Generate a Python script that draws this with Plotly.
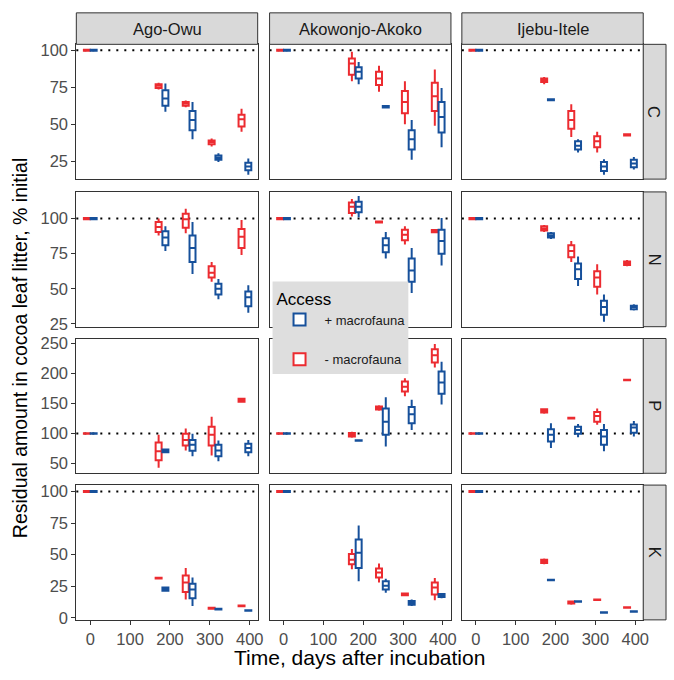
import plotly.graph_objects as go

# ---------------- data ----------------
sites = ["Ago-Owu", "Akowonjo-Akoko", "Ijebu-Itele"]
nutrients = ["C", "N", "P", "K"]
times = [0, 180, 248, 313, 388]
access_labels = ["+ macrofauna", "- macrofauna"]

# each entry: (lower whisker, q1, median, q3, upper whisker) per time point
t0 = (99.3, 99.6, 100, 100.4, 100.7)

C_AgoOwu_minus = [t0, (73.5, 74.5, 76, 77, 78), (61.5, 62.5, 64, 65, 66), (35, 36.5, 38, 39, 40.5), (45, 48.5, 53.5, 56.5, 60.5)]
C_AgoOwu_plus = [t0, (58.5, 62.5, 67.5, 73, 77.5), (40, 46, 53, 59, 65), (24.5, 26, 27.5, 29, 30.5), (16, 19, 21.5, 24, 27)]
C_Akowonjo_minus = [t0, (79, 83.5, 91, 94.5, 99), (72, 76.5, 81, 85.5, 89.5), (50, 57.5, 65, 72.5, 79), (49, 59, 69, 78, 87)]
C_Akowonjo_plus = [t0, (77, 81, 85.5, 88.5, 92), (61, 61.3, 62, 62.3, 62.5), (26, 33, 40, 46, 53), (34.5, 44.5, 55, 65, 74.5)]
C_Ijebu_minus = [t0, (77, 78.5, 80, 81, 82), (41.5, 47, 53, 59, 63.5), (31, 34.5, 38.5, 42, 45), (42, 42.5, 43, 43.3, 43.6)]
C_Ijebu_plus = [t0, (66, 66.3, 66.7, 67, 67.5), (31, 33, 35.5, 38.5, 40), (16, 18.5, 21.5, 24.5, 26.5), (19.5, 21, 23.5, 26, 28)]

N_AgoOwu_minus = [t0, (88, 90.5, 94, 97.5, 100), (89.5, 93.5, 99.5, 103.5, 107), (55, 58, 61.5, 66, 69), (74, 79, 87, 92.5, 99)]
N_AgoOwu_plus = [t0, (77, 81, 86.5, 91, 94.5), (60.5, 69, 79, 88, 97.5), (42.5, 46, 50, 53.5, 57), (33, 37.5, 44, 48, 52.5)]
N_Akowonjo_minus = [t0, (101.5, 104, 108.5, 111.5, 114), (97, 97.3, 97.6, 98, 98.3), (81.5, 84.5, 88.5, 92, 94.5), (89.5, 90.3, 91, 91.8, 92.5)]
N_Akowonjo_plus = [t0, (101, 104.5, 108.5, 112, 116), (71.5, 76, 81, 86, 90.5), (47, 55, 63, 71.5, 79), (66.5, 75, 84, 92, 100.5)]
N_Ijebu_minus = [t0, (90.5, 91.5, 93, 94.5, 95.5), (69, 72.5, 77, 81, 84), (46, 51.5, 58, 62.5, 67.5), (66, 67, 68, 69.5, 70.5)]
N_Ijebu_plus = [t0, (85.5, 86.5, 88, 89.5, 90.5), (52, 57, 64, 68, 73), (26.5, 31.5, 37, 41.5, 46), (34.5, 35.5, 37, 38, 39)]

P_AgoOwu_minus = [t0, (43, 55.5, 70.5, 85, 98), (72, 80, 89.5, 99.5, 108.5), (63.5, 80, 98, 111.5, 128), (152, 153, 155.5, 158, 159)]
P_AgoOwu_plus = [t0, (68, 69, 71, 73.5, 74.5), (62.5, 71.5, 81.5, 89.5, 99.5), (54, 62.5, 72, 81.5, 88.5), (62.5, 69, 76, 83, 89.5)]
P_Akowonjo_minus = [t0, (93, 95, 98, 101, 103), (138, 140, 142.5, 145, 147), (162, 170, 178, 186.5, 192), (210, 218, 230, 240, 249)]
P_Akowonjo_plus = [t0, (87.5, 88, 88.5, 89, 89.5), (78.5, 98, 119.5, 141.5, 160.5), (106, 117, 132, 144, 156), (148.5, 166, 185, 203, 219.5)]
P_Ijebu_minus = [t0, (133, 135, 137.5, 140.5, 142), (124.5, 125, 125.7, 126.3, 127), (114.5, 119.5, 129, 136, 141.5), (188, 188.5, 189, 189.5, 190)]
P_Ijebu_plus = [t0, (76, 87, 98, 107, 117), (94, 99.5, 106, 111.5, 116), (70.5, 81.5, 95, 106, 116), (95, 101.5, 110, 115, 121)]

K_AgoOwu_minus = [t0, (31, 31.2, 31.5, 31.8, 32), (14.5, 20.5, 28, 33.5, 39.5), (7, 7.3, 7.7, 8.1, 8.5), (9, 9.2, 9.5, 9.8, 10)]
K_AgoOwu_plus = [t0, (21, 21.5, 22.7, 24, 24.5), (9.5, 15.5, 22.5, 27, 32), (6.5, 6.7, 7, 7.2, 7.5), (5.5, 5.7, 6, 6.2, 6.5)]
K_Akowonjo_minus = [t0, (38.5, 42.5, 46, 50.5, 54.5), (28, 32, 36, 39, 43), (17.5, 18, 18.7, 19.4, 20), (14, 18.5, 24, 28, 31.5)]
K_Akowonjo_plus = [t0, (29, 39.5, 51.5, 62, 73), (20, 22.5, 25.5, 29, 31), (9.5, 10.5, 12, 13.5, 14.5), (15.5, 16.5, 17.7, 19, 19.5)]
K_Ijebu_minus = [t0, (42.5, 43.5, 44.8, 46, 47), (10.5, 11.5, 12.3, 13, 13.5), (14, 14.2, 14.4, 14.6, 14.8), (7.8, 8, 8.2, 8.4, 8.6)]
K_Ijebu_plus = [t0, (29.5, 29.8, 30, 30.2, 30.5), (12.7, 12.9, 13.1, 13.3, 13.5), (4, 4.2, 4.4, 4.6, 4.8), (4.7, 4.9, 5.1, 5.3, 5.5)]

y_ranges = {"C": [13, 104], "N": [23, 119], "P": [34, 258], "K": [-1.5, 105]}
y_ticks = {"C": [25, 50, 75, 100], "N": [25, 50, 75, 100], "P": [50, 100, 150, 200, 250], "K": [0, 25, 50, 75, 100]}
x_ticks = [0, 100, 200, 300, 400]

data = {
    ("C", 0): (C_AgoOwu_plus, C_AgoOwu_minus), ("C", 1): (C_Akowonjo_plus, C_Akowonjo_minus), ("C", 2): (C_Ijebu_plus, C_Ijebu_minus),
    ("N", 0): (N_AgoOwu_plus, N_AgoOwu_minus), ("N", 1): (N_Akowonjo_plus, N_Akowonjo_minus), ("N", 2): (N_Ijebu_plus, N_Ijebu_minus),
    ("P", 0): (P_AgoOwu_plus, P_AgoOwu_minus), ("P", 1): (P_Akowonjo_plus, P_Akowonjo_minus), ("P", 2): (P_Ijebu_plus, P_Ijebu_minus),
    ("K", 0): (K_AgoOwu_plus, K_AgoOwu_minus), ("K", 1): (K_Akowonjo_plus, K_Akowonjo_minus), ("K", 2): (K_Ijebu_plus, K_Ijebu_minus),
}

# ---------------- style / layout ----------------
W, H = 674, 680
BLUE = "#16509B"
RED = "#EC2B30"
FONT = "Liberation Sans"
TICK_SIZE = 16.5
STRIP_SIZE = 16.5
XTITLE_SIZE = 21
YTITLE_SIZE = 19.5
col_px = [(77, 260), (272, 455), (466, 649)]
row_px = [(41, 178), (191, 328), (340, 477), (489, 626)]
strip_top = (9, 41)
strip_right = (649, 672)
legend_box = (275, 282, 412, 376)
dodge = 8.5
box_w = 15

def px2x(p):
    return p / W

def px2y(p):
    return 1 - p / H

fig = go.Figure()
layout = dict(
    width=W, height=H, margin=dict(l=0, r=0, t=0, b=0),
    paper_bgcolor="white", plot_bgcolor="white",
    font=dict(family=FONT, color="#1A1A1A"),
    showlegend=True,
)
shapes = []
annotations = []

for r, nut in enumerate(nutrients):
    for c in range(3):
        k = r * 3 + c + 1
        xa = "x" if k == 1 else f"x{k}"
        ya = "y" if k == 1 else f"y{k}"
        bottom = r == len(nutrients) - 1
        left = c == 0
        layout[f"xaxis{'' if k == 1 else k}"] = dict(
            domain=[px2x(col_px[c][0]), px2x(col_px[c][1])], anchor=ya,
            range=[-35, 420], tickvals=x_ticks, showticklabels=bottom,
            ticks="outside" if bottom else "", ticklen=4, tickcolor="#333333",
            tickfont=dict(size=TICK_SIZE, color="#4D4D4D", family=FONT),
            showgrid=False, zeroline=False, showline=True, mirror=True,
            linecolor="#333333", linewidth=1,
        )
        layout[f"yaxis{'' if k == 1 else k}"] = dict(
            domain=[px2y(row_px[r][1]), px2y(row_px[r][0])], anchor=xa,
            range=y_ranges[nut], tickvals=y_ticks[nut], showticklabels=left,
            ticks="outside" if left else "", ticklen=4, tickcolor="#333333",
            tickfont=dict(size=TICK_SIZE, color="#4D4D4D", family=FONT),
            showgrid=False, zeroline=False, showline=True, mirror=True,
            linecolor="#333333", linewidth=1,
        )
        # dotted reference line at 100 %
        shapes.append(dict(type="line", xref=f"{xa} domain", yref=ya, x0=0, x1=1, y0=100, y1=100,
                           line=dict(color="black", width=2, dash="2px,6px"), layer="below"))
        plus, minus = data[(nut, c)]
        for series, lab, col, off, rank in ((minus, access_labels[1], RED, -dodge, 2),
                                            (plus, access_labels[0], BLUE, dodge, 1)):
            fig.add_trace(go.Box(
                x=[t + off for t in times],
                lowerfence=[s[0] for s in series], q1=[s[1] for s in series],
                median=[s[2] for s in series], q3=[s[3] for s in series],
                upperfence=[s[4] for s in series],
                width=box_w, whiskerwidth=0, fillcolor="white",
                line=dict(color=col, width=2), boxpoints=False,
                name=lab, legendgroup=lab, legendrank=rank, showlegend=(k == 1),
                xaxis=xa, yaxis=ya, hoverinfo="skip",
            ))

# top strips
for c, site in enumerate(sites):
    shapes.append(dict(type="rect", xref="paper", yref="paper",
                       x0=px2x(col_px[c][0]), x1=px2x(col_px[c][1]),
                       y0=px2y(strip_top[1]), y1=px2y(strip_top[0]),
                       fillcolor="#D9D9D9", line=dict(color="#333333", width=1)))
    annotations.append(dict(xref="paper", yref="paper", x=px2x((col_px[c][0] + col_px[c][1]) / 2),
                            y=px2y((strip_top[0] + strip_top[1]) / 2), xanchor="center", yanchor="middle",
                            text=site, showarrow=False,
                            font=dict(size=STRIP_SIZE, color="#1A1A1A", family=FONT)))
# right strips
for r, nut in enumerate(nutrients):
    shapes.append(dict(type="rect", xref="paper", yref="paper",
                       x0=px2x(strip_right[0]), x1=px2x(strip_right[1]),
                       y0=px2y(row_px[r][1]), y1=px2y(row_px[r][0]),
                       fillcolor="#D9D9D9", line=dict(color="#333333", width=1)))
    annotations.append(dict(xref="paper", yref="paper", x=px2x((strip_right[0] + strip_right[1]) / 2),
                            y=px2y((row_px[r][0] + row_px[r][1]) / 2), xanchor="center", yanchor="middle",
                            text=nut, showarrow=False,
                            textangle=90, font=dict(size=STRIP_SIZE, color="#1A1A1A", family=FONT)))

# legend background panel
shapes.append(dict(type="rect", xref="paper", yref="paper", layer="above",
                   x0=px2x(legend_box[0]), x1=px2x(legend_box[2]),
                   y0=px2y(legend_box[3]), y1=px2y(legend_box[1]),
                   fillcolor="#DEDEDE", line=dict(width=0)))

# axis titles
annotations.append(dict(xref="paper", yref="paper", x=px2x((col_px[0][0] + col_px[2][1]) / 2), y=px2y(664),
                        xanchor="center", yanchor="middle",
                        text="Time, days after incubation", showarrow=False,
                        font=dict(size=XTITLE_SIZE, color="black", family=FONT)))
annotations.append(dict(xref="paper", yref="paper", x=px2x(21), y=px2y(350),
                        xanchor="center", yanchor="middle",
                        text="Residual amount in cocoa leaf litter, % initial", showarrow=False, textangle=-90,
                        font=dict(size=YTITLE_SIZE, color="black", family=FONT)))

layout["shapes"] = shapes
layout["annotations"] = annotations
layout["legend"] = dict(
    x=px2x(legend_box[0] + 2), y=px2y(legend_box[1] + 1), xanchor="left", yanchor="top",
    bgcolor="rgba(0,0,0,0)", borderwidth=0,
    title=dict(text="Access", font=dict(size=17, color="black", family=FONT)),
    font=dict(size=13, color="#1A1A1A", family=FONT),
    traceorder="grouped", tracegroupgap=20, itemwidth=40,
)
fig.update_layout(**layout)
fig.write_html("out.html")
